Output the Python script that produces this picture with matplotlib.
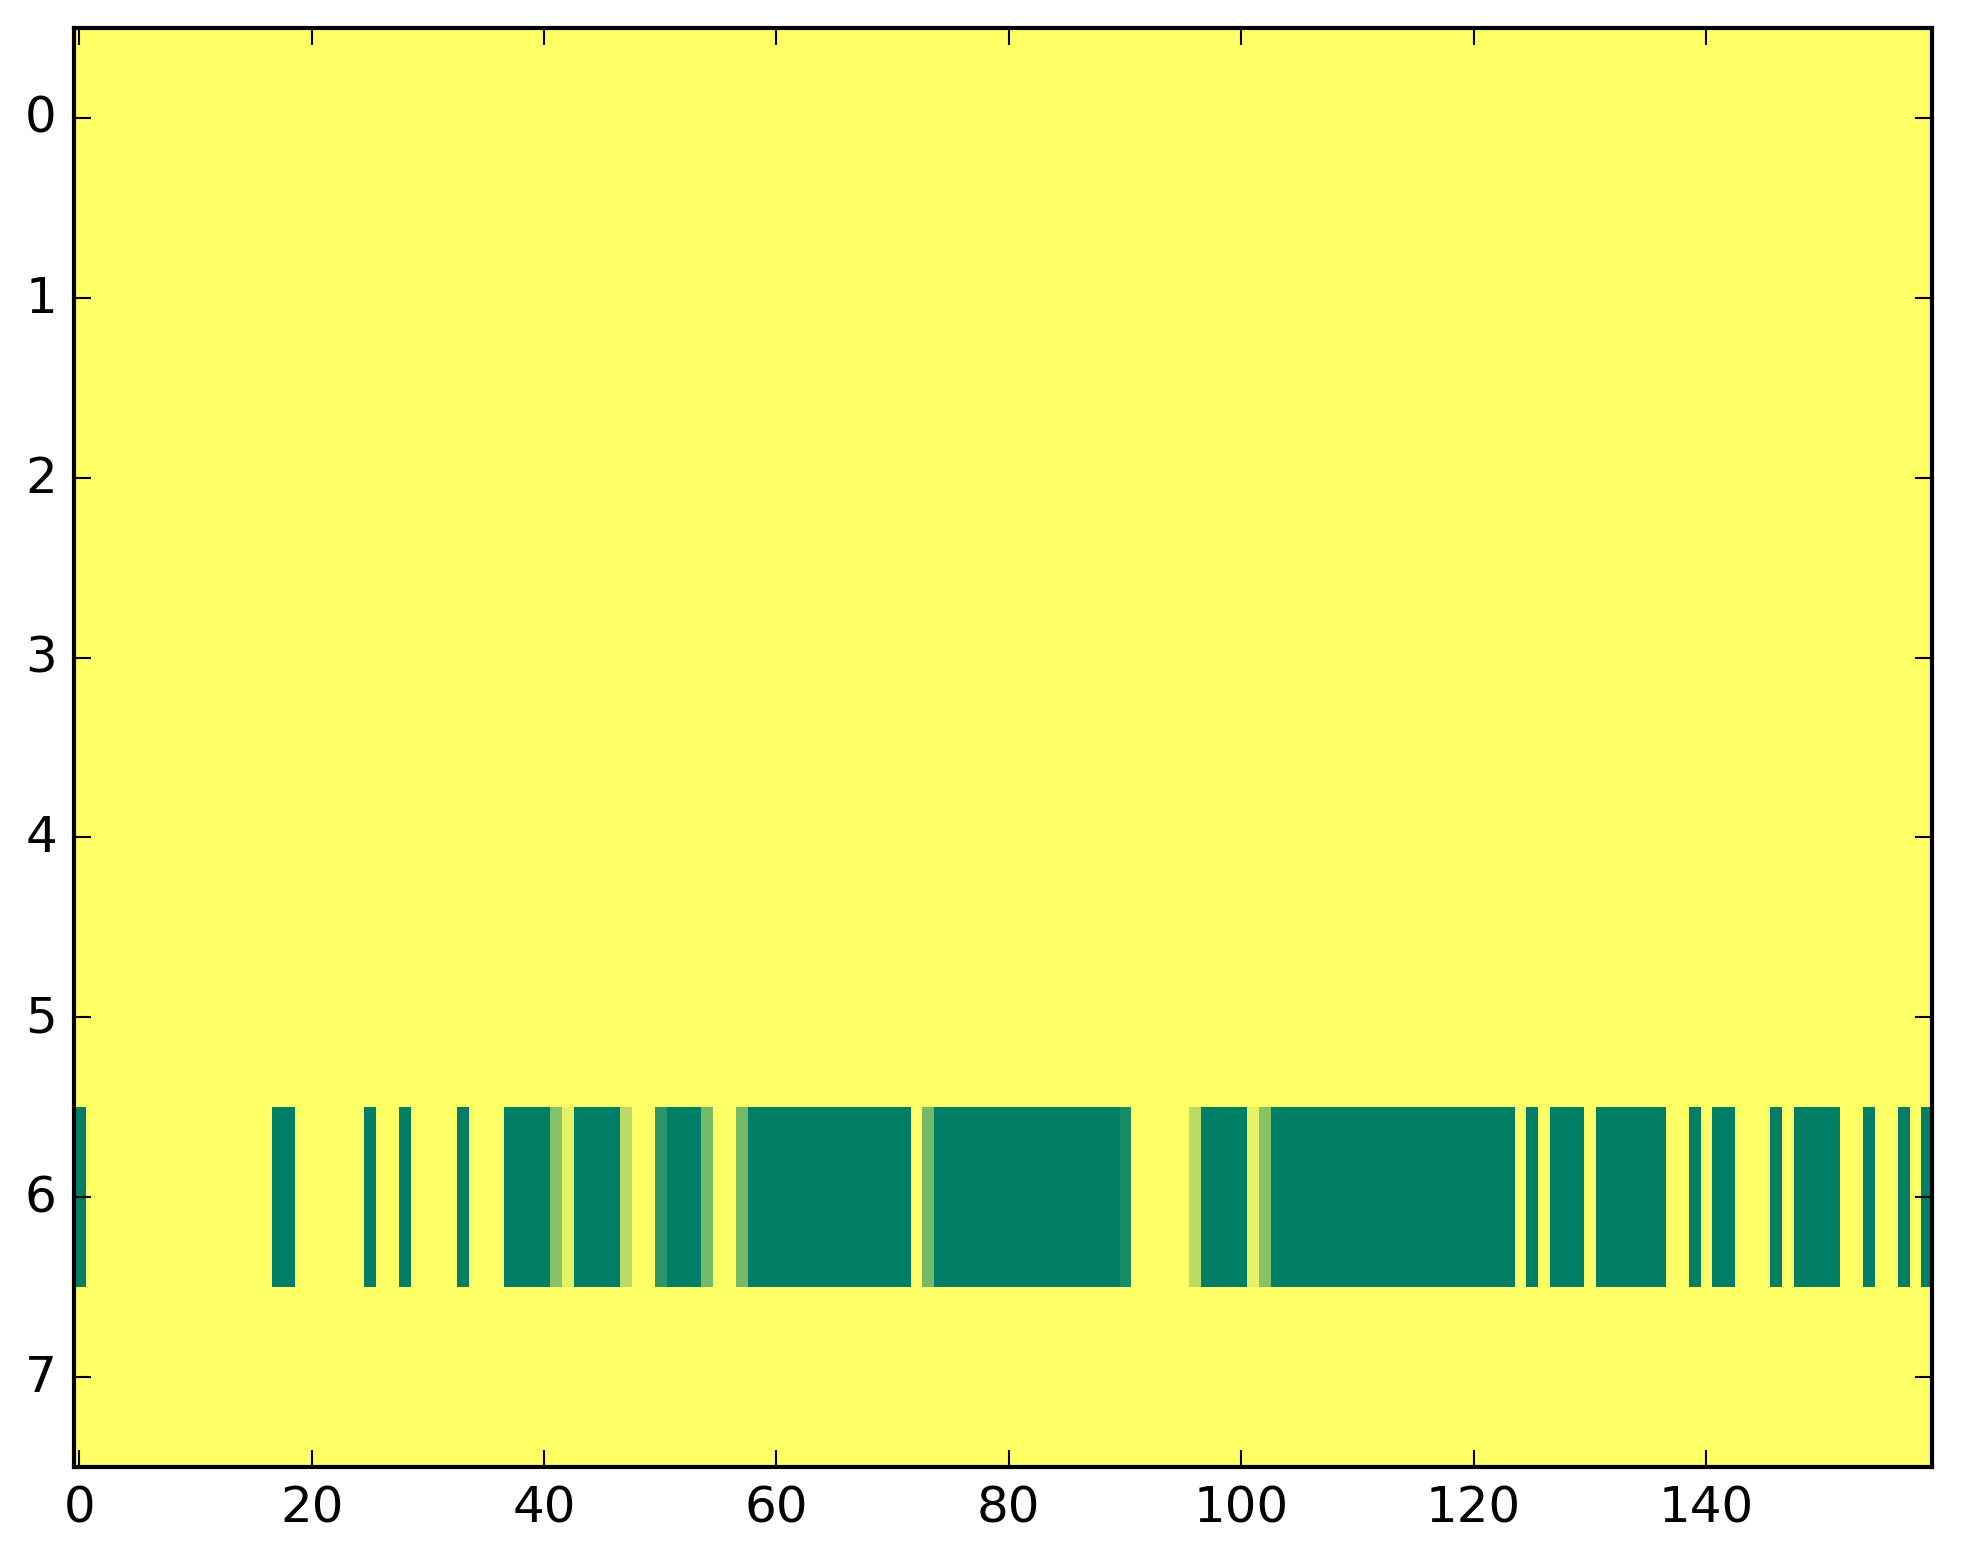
import matplotlib
matplotlib.use("Agg")
import matplotlib.pyplot as plt
import numpy as np

plt.style.use("classic")

# one value per cell; 1 = yellow, 0 = dark green (summer colormap)
row_plain = [1.0] * 160
row_6 = (
    [0, 1, 1, 1, 1, 1, 1, 1, 1, 1, 1, 1, 1, 1, 1, 1, 1, 0, 0, 1]
    + [1, 1, 1, 1, 1, 0, 1, 1, 0, 1, 1, 1, 1, 0, 1, 1, 1, 0, 0, 0]
    + [0, .53, .9, 0, 0, 0, 0, .73, 1, 1, .18, 0, 0, 0, .46, 1, 1, .46, 0, 0]
    + [0, 0, 0, 0, 0, 0, 0, 0, 0, 0, 0, 0, 1, .46, 0, 0, 0, 0, 0, 0]
    + [0, 0, 0, 0, 0, 0, 0, 0, 0, 0, .09, 1, 1, 1, 1, 1, .73, 0, 0, 0]
    + [0, .9, .53, 0, 0, 0, 0, 0, 0, 0, 0, 0, 0, 0, 0, 0, 0, 0, 0, 0]
    + [0, 0, 0, 0, 1, 0, 1, 0, 0, 0, 1, 0, 0, 0, 0, 0, 0, 1, 1, 0]
    + [1, 0, 0, 1, 1, 1, 0, 1, 0, 0, 0, 0, 1, 1, 0, 1, 1, 0, 1, 0]
)
rows = [row_plain] * 6 + [row_6] + [row_plain]
grid = np.array(rows, dtype=float)

W, H = 1963, 1564
fig = plt.figure(figsize=(W / 300, H / 300), dpi=300, facecolor="white")
ax = fig.add_axes([73.5 / W, (H - 1468) / H, 1859 / W, 1439 / H])

ax.imshow(grid, cmap="summer", interpolation="nearest", aspect="auto",
          vmin=0, vmax=1)
ax.set_xticks([0, 20, 40, 60, 80, 100, 120, 140])
ax.set_yticks(range(8))
ax.tick_params(labelsize=12)

fig.savefig("out.png", dpi=300, facecolor="white")
